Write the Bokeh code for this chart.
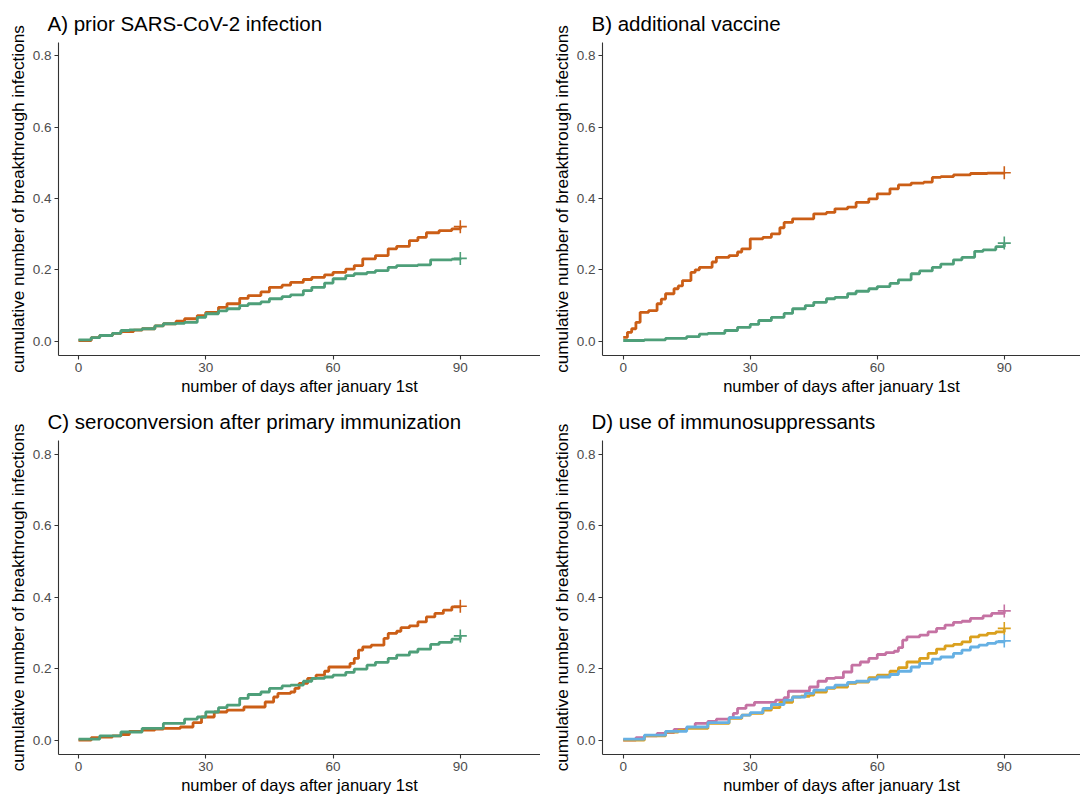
from bokeh.plotting import figure
from bokeh.layouts import gridplot
from bokeh.models import Title, FixedTicker, PrintfTickFormatter, Range1d
from bokeh.embed import file_html
from bokeh.resources import INLINE

FONT = "Liberation Sans"

panel_titles = ["A) prior SARS-CoV-2 infection", "B) additional vaccine",
                "C) seroconversion after primary immunization", "D) use of immunosuppressants"]
x_label = "number of days after january 1st"
y_label = "cumulative number of breakthrough infections"
x_ticks = [0, 30, 60, 90]
y_ticks = [0.0, 0.2, 0.4, 0.6, 0.8]

# Panel A
a_orange_days = [0, 3, 5, 8, 10, 13, 15, 18, 20, 23, 25, 28, 30, 33, 35, 38, 40, 43, 45, 48, 50, 53, 55, 58, 60,
                 63, 65, 67, 70, 73, 75, 78, 80, 82, 85, 88, 90]
a_orange_vals = [0.002, 0.010, 0.016, 0.022, 0.027, 0.031, 0.035, 0.043, 0.049, 0.056, 0.063, 0.072, 0.081, 0.095,
                 0.105, 0.120, 0.128, 0.138, 0.151, 0.157, 0.165, 0.173, 0.179, 0.186, 0.193, 0.202, 0.212, 0.231,
                 0.240, 0.259, 0.266, 0.282, 0.291, 0.304, 0.310, 0.315, 0.321]
a_green_days = [0, 3, 5, 8, 10, 12, 15, 18, 20, 23, 25, 28, 30, 33, 35, 38, 40, 43, 45, 48, 50, 53, 55, 58, 60,
                63, 65, 68, 70, 73, 75, 78, 80, 83, 85, 88, 90]
a_green_vals = [0.004, 0.010, 0.016, 0.022, 0.030, 0.032, 0.035, 0.043, 0.049, 0.050, 0.053, 0.067, 0.077, 0.085,
                0.091, 0.100, 0.105, 0.110, 0.119, 0.125, 0.130, 0.142, 0.151, 0.163, 0.175, 0.184, 0.189, 0.193,
                0.198, 0.207, 0.212, 0.212, 0.214, 0.228, 0.228, 0.230, 0.232]

# Panel B
b_orange_days = [0, 1, 2, 3, 4, 6, 8, 9, 10, 12, 13, 14, 16, 17, 18, 20, 21, 22, 25, 27, 28, 30, 33, 35, 37, 38,
                 40, 43, 45, 48, 50, 53, 55, 58, 60, 63, 65, 68, 71, 73, 75, 78, 82, 86, 90]
b_orange_vals = [0.011, 0.025, 0.035, 0.053, 0.081, 0.086, 0.105, 0.118, 0.133, 0.147, 0.155, 0.170, 0.193, 0.200,
                 0.207, 0.207, 0.222, 0.235, 0.240, 0.250, 0.259, 0.287, 0.291, 0.301, 0.318, 0.333, 0.343, 0.343,
                 0.357, 0.361, 0.371, 0.376, 0.389, 0.399, 0.413, 0.427, 0.438, 0.443, 0.446, 0.459, 0.461, 0.466,
                 0.470, 0.471, 0.472]
b_green_days = [0, 5, 10, 15, 18, 20, 24, 27, 30, 32, 35, 38, 40, 43, 45, 48, 50, 53, 55, 58, 60, 63, 65, 68, 70,
                73, 75, 78, 80, 83, 85, 88, 90]
b_green_vals = [0.002, 0.004, 0.008, 0.013, 0.020, 0.022, 0.030, 0.039, 0.047, 0.058, 0.067, 0.078, 0.091, 0.100,
                0.109, 0.119, 0.123, 0.133, 0.140, 0.147, 0.153, 0.162, 0.172, 0.189, 0.197, 0.207, 0.216, 0.228,
                0.235, 0.252, 0.256, 0.265, 0.275]

# Panel C
c_orange_days = [0, 3, 5, 8, 10, 12, 15, 18, 20, 24, 27, 29, 32, 35, 39, 44, 46, 47, 50, 51, 52, 54, 56, 58, 59,
                 64, 65, 66, 67, 69, 72, 73, 75, 76, 78, 80, 82, 84, 86, 88, 90]
c_orange_vals = [0.0, 0.007, 0.009, 0.012, 0.016, 0.025, 0.028, 0.031, 0.033, 0.037, 0.049, 0.065, 0.079, 0.084,
                 0.093, 0.107, 0.121, 0.131, 0.135, 0.145, 0.159, 0.173, 0.182, 0.193, 0.205, 0.215, 0.229, 0.252,
                 0.261, 0.266, 0.285, 0.299, 0.305, 0.315, 0.320, 0.331, 0.345, 0.355, 0.364, 0.373, 0.375]
c_green_days = [0, 5, 10, 15, 20, 25, 28, 30, 33, 35, 38, 40, 43, 45, 48, 50, 53, 55, 58, 60, 63, 65, 68, 70, 73,
                75, 78, 80, 83, 85, 88, 90]
c_green_vals = [0.003, 0.012, 0.023, 0.033, 0.047, 0.059, 0.065, 0.079, 0.091, 0.098, 0.117, 0.128, 0.135, 0.145,
                0.152, 0.154, 0.165, 0.173, 0.177, 0.182, 0.190, 0.199, 0.210, 0.218, 0.229, 0.238, 0.247, 0.255,
                0.268, 0.274, 0.283, 0.292]

# Panel D
d_pink_days = [0, 3, 5, 8, 10, 12, 15, 17, 20, 22, 25, 26, 27, 29, 31, 36, 38, 39, 44, 46, 48, 50, 52, 54, 56, 58,
               60, 62, 64, 65, 66, 67, 70, 72, 74, 76, 78, 80, 82, 85, 87, 90]
d_pink_vals = [0.0, 0.007, 0.012, 0.019, 0.021, 0.030, 0.035, 0.047, 0.053, 0.059, 0.063, 0.075, 0.089, 0.098,
               0.106, 0.112, 0.119, 0.137, 0.149, 0.165, 0.173, 0.175, 0.191, 0.210, 0.219, 0.229, 0.240, 0.245,
               0.249, 0.259, 0.280, 0.289, 0.294, 0.303, 0.313, 0.322, 0.330, 0.333, 0.341, 0.348, 0.355, 0.362]
d_gold_days = [0, 5, 10, 13, 15, 20, 25, 28, 30, 33, 35, 37, 40, 42, 44, 45, 48, 50, 53, 55, 58, 60, 63, 65, 67,
               70, 72, 74, 76, 78, 80, 82, 84, 86, 88, 90]
d_gold_vals = [0.0, 0.012, 0.023, 0.028, 0.033, 0.047, 0.061, 0.070, 0.075, 0.084, 0.091, 0.106, 0.121, 0.123,
               0.126, 0.135, 0.145, 0.149, 0.159, 0.163, 0.175, 0.182, 0.193, 0.203, 0.219, 0.229, 0.243, 0.255,
               0.264, 0.268, 0.275, 0.289, 0.294, 0.299, 0.303, 0.313]
d_blue_days = [0, 5, 10, 15, 20, 25, 28, 30, 33, 35, 38, 40, 43, 45, 48, 50, 53, 55, 58, 60, 63, 65, 68, 70, 73,
               75, 78, 80, 82, 84, 86, 88, 90]
d_blue_vals = [0.003, 0.014, 0.025, 0.037, 0.049, 0.063, 0.070, 0.077, 0.089, 0.100, 0.112, 0.121, 0.131, 0.140,
               0.147, 0.154, 0.162, 0.165, 0.171, 0.177, 0.184, 0.193, 0.205, 0.215, 0.227, 0.233, 0.243, 0.252,
               0.261, 0.266, 0.271, 0.275, 0.278]

ORANGE = "#CB5E16"
GREEN = "#4E9F79"
PINK = "#C572A3"
GOLD = "#DAA01E"
BLUE = "#66B0E3"

AXIS_COL = "#333333"
TICK_LABEL_COL = "#4D4D4D"


def make_panel(title, series, width, height, left, top, bottom, x0, x1, y0, y1):
    p = figure(width=width, height=height, output_backend="svg", toolbar_location=None,
               x_range=Range1d(x0, x1), y_range=Range1d(y0, y1),
               min_border_left=left, min_border_right=0, min_border_top=top, min_border_bottom=bottom)
    p.outline_line_color = None
    p.xgrid.grid_line_color = None
    p.ygrid.grid_line_color = None
    p.background_fill_color = "white"
    p.border_fill_color = "white"

    t = Title(text=title, align="left", offset=-11, text_font=FONT, text_font_size="20.5px",
              text_font_style="normal", text_color="black", standoff=15)
    p.add_layout(t, "above")

    for ax in (p.xaxis[0], p.yaxis[0]):
        ax.axis_line_color = AXIS_COL
        ax.axis_line_width = 1.1
        ax.major_tick_line_color = AXIS_COL
        ax.major_tick_line_width = 1.1
        ax.major_tick_out = 4
        ax.major_tick_in = 0
        ax.minor_tick_line_color = None
        ax.major_label_text_font = FONT
        ax.major_label_text_font_size = "13.5px"
        ax.major_label_text_color = TICK_LABEL_COL
        ax.axis_label_text_font = FONT
        ax.axis_label_text_font_style = "normal"
        ax.axis_label_text_color = "black"
        ax.major_label_standoff = 3
        ax.axis_label_standoff = 2
    p.xaxis[0].axis_label_text_font_size = "16.5px"
    p.yaxis[0].axis_label_text_font_size = "17.2px"

    p.xaxis[0].ticker = FixedTicker(ticks=x_ticks)
    p.yaxis[0].ticker = FixedTicker(ticks=y_ticks)
    p.yaxis[0].formatter = PrintfTickFormatter(format="%.1f")
    p.xaxis[0].axis_label = x_label
    p.yaxis[0].axis_label = y_label

    for days, vals, col in series:
        p.step(x=days, y=vals, mode="after", line_color=col, line_width=2.8)
        p.scatter(x=[days[-1]], y=[vals[-1]], marker="cross", size=13, line_color=col, line_width=1.6)
    return p


pA = make_panel(panel_titles[0], [(a_orange_days, a_orange_vals, ORANGE), (a_green_days, a_green_vals, GREEN)],
                540, 398, 58, 42, 43, -4.71, 108.9, -0.040, 0.837)
pB = make_panel(panel_titles[1], [(b_orange_days, b_orange_vals, ORANGE), (b_green_days, b_green_vals, GREEN)],
                540, 398, 62, 42, 43, -4.89, 108.0, -0.040, 0.837)
pC = make_panel(panel_titles[2], [(c_orange_days, c_orange_vals, ORANGE), (c_green_days, c_green_vals, GREEN)],
                540, 398, 58, 42, 42, -4.71, 108.9, -0.040, 0.839)
pD = make_panel(panel_titles[3], [(d_pink_days, d_pink_vals, PINK), (d_gold_days, d_gold_vals, GOLD),
                                  (d_blue_days, d_blue_vals, BLUE)],
                540, 398, 62, 42, 42, -4.89, 108.0, -0.040, 0.839)

grid = gridplot([[pA, pB], [pC, pD]], toolbar_location=None)

open("out.html", "w").write(file_html(grid, INLINE))
